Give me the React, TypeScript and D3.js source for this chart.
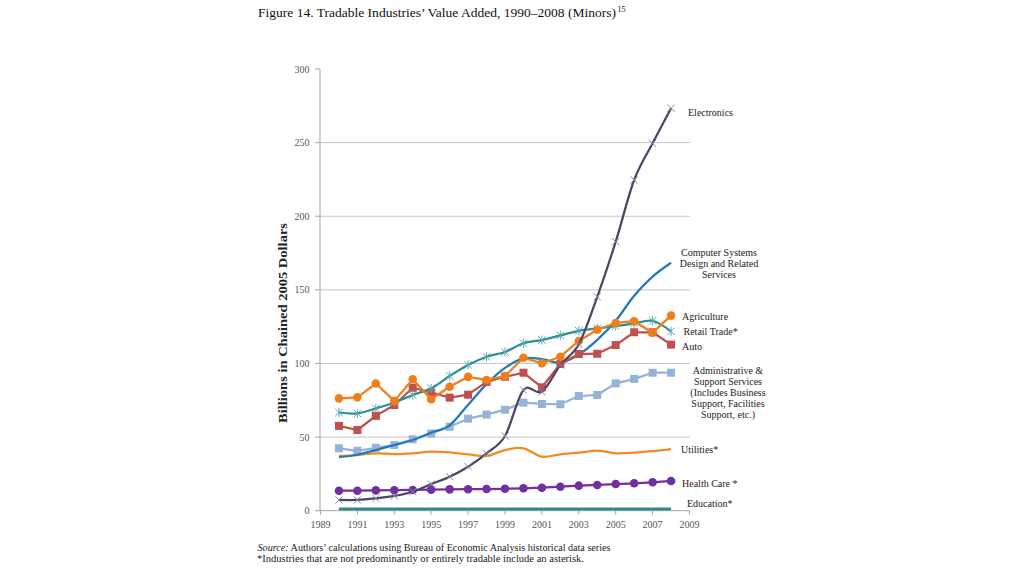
import React from "react";
import * as d3 from "d3";

const years = [1990,1991,1992,1993,1994,1995,1996,1997,1998,1999,2000,2001,2002,2003,2004,2005,2006,2007,2008];
const electronics = [7.3,7.3,8.4,10,12.9,18.1,23.1,29.9,39,50.7,82,80.8,99,113,145.3,182.7,224.6,249.5,273.3];
const computer = [36.3,38,41.2,44.6,48,53,58,72,86,97,103.5,103,100.5,106,116,129,146,159,168.4];
const agriculture = [76.3,77,86.4,74.6,89.3,75.7,84.2,90.9,88.8,91.5,103.9,100.1,104.6,115.3,122.9,127.5,128.7,120.9,132.5];
const retail = [66.7,66.1,69.5,73.5,78.6,83.1,91.5,99,104.6,107.8,113.7,115.9,119.1,122.2,123.8,125.4,127.2,129,121.8];
const auto = [57.6,54.8,64.4,71.8,83.5,80.3,76.8,78.8,87.5,91,93.7,83.8,99.6,106.4,106.6,112.5,121.2,121.2,112.8];
const admin = [42.4,40.7,42.7,44.6,48.5,52.4,57,62.5,65.3,68.6,73.4,72.5,72.3,77.9,78.6,86.5,89.5,93.7,93.7];
const utilities = [37.2,37.8,39,38.5,39,40.1,39.6,38.3,37.2,41.2,42.4,36.7,38.3,39.4,40.8,39,39.4,40.5,41.9];
const health = [13.6,13.6,13.8,13.9,14.1,14.3,14.5,14.6,14.7,14.9,15.2,15.6,16.3,17,17.5,18.1,18.6,19.3,20.2];
const education = [1.2,1.2,1.2,1.2,1.2,1.2,1.2,1.2,1.2,1.2,1.2,1.2,1.2,1.2,1.2,1.2,1.2,1.2,1.2];

const yTicks = [0,50,100,150,200,250,300];
const xTicks = [1989,1991,1993,1995,1997,1999,2001,2003,2005,2007,2009];

type Marker = "none" | "circle" | "square" | "x" | "asterisk";
interface Series { name: string; values: number[]; color: string; markerColor: string; marker: Marker; smooth: boolean; width: number; }

const series: Series[] = [
  { name: "Education*", values: education, color: "#2f8a8e", markerColor: "#2f8a8e", marker: "none", smooth: false, width: 3 },
  { name: "Health Care *", values: health, color: "#7030a0", markerColor: "#7030a0", marker: "circle", smooth: false, width: 2.25 },
  { name: "Utilities*", values: utilities, color: "#f08a24", markerColor: "#f08a24", marker: "none", smooth: true, width: 2.25 },
  { name: "Administrative & Support Services", values: admin, color: "#95b3d7", markerColor: "#95b3d7", marker: "square", smooth: false, width: 2.25 },
  { name: "Computer Systems", values: computer, color: "#2579b9", markerColor: "#2579b9", marker: "none", smooth: true, width: 2.25 },
  { name: "Auto", values: auto, color: "#c0504d", markerColor: "#c0504d", marker: "square", smooth: false, width: 2.25 },
  { name: "Retail Trade*", values: retail, color: "#2e8f8f", markerColor: "#5aaab8", marker: "asterisk", smooth: true, width: 2.25 },
  { name: "Agriculture", values: agriculture, color: "#f07f1b", markerColor: "#f07f1b", marker: "circle", smooth: false, width: 2.25 },
  { name: "Electronics", values: electronics, color: "#4d4766", markerColor: "#8c88a3", marker: "x", smooth: true, width: 2.25 },
];

const labels: { lines: string[]; x: number; y: number; anchor: "start" | "middle" }[] = [
  { lines: ["Electronics"], x: 688, y: 112.5, anchor: "start" },
  { lines: ["Computer Systems", "Design and Related", "Services"], x: 719, y: 252.5, anchor: "middle" },
  { lines: ["Agriculture"], x: 682, y: 316.5, anchor: "start" },
  { lines: ["Retail Trade*"], x: 683.5, y: 331, anchor: "start" },
  { lines: ["Auto"], x: 682, y: 346, anchor: "start" },
  { lines: ["Administrative &", "Support Services", "(Includes Business", "Support, Facilities", "Support, etc.)"], x: 728, y: 370, anchor: "middle" },
  { lines: ["Utilities*"], x: 681, y: 449.5, anchor: "start" },
  { lines: ["Health Care *"], x: 682, y: 483, anchor: "start" },
  { lines: ["Education*"], x: 687, y: 503.5, anchor: "start" },
];

const FONT = "'Liberation Serif', 'Times New Roman', serif";

export default function App() {
  const x = d3.scaleLinear().domain([1989, 2009]).range([320.5, 689.5]);
  const y = d3.scaleLinear().domain([0, 300]).range([510.7, 69]);

  const markerNode = (s: Series, px: number, py: number, key: string) => {
    const c = s.markerColor;
    if (s.marker === "circle") return <circle key={key} cx={px} cy={py} r={4.3} fill={c} />;
    if (s.marker === "square") return <rect key={key} x={px - 4} y={py - 4} width={8} height={8} fill={c} />;
    if (s.marker === "x") {
      const h = 3.6;
      return <path key={key} d={`M${px - h},${py - h}L${px + h},${py + h}M${px - h},${py + h}L${px + h},${py - h}`} stroke={c} strokeWidth={1} fill="none" />;
    }
    if (s.marker === "asterisk") {
      const h = 3.8;
      return <path key={key} d={`M${px - h},${py - h}L${px + h},${py + h}M${px - h},${py + h}L${px + h},${py - h}M${px},${py - h - 0.8}L${px},${py + h + 0.8}`} stroke={c} strokeWidth={1} fill="none" />;
    }
    return null;
  };

  return (
    <svg width={1024} height={576} style={{ position: "absolute", left: 0, top: 0, background: "#fff" }} fontFamily={FONT}>
      <rect width={1024} height={576} fill="#fff" />
      {/* title */}
      <text x={258} y={17} fontSize={13.5} fill="#111" textLength={358} lengthAdjust="spacingAndGlyphs">
        Figure 14. Tradable Industries’ Value Added, 1990–2008 (Minors)
      </text>
      <text x={617.5} y={12} fontSize={8} fill="#111">15</text>

      {/* gridlines */}
      {yTicks.filter(t => t > 0 && t < 300).map(t => (
        <line key={`g${t}`} x1={320} x2={690} y1={y(t)} y2={y(t)} stroke="#c4c4c4" strokeWidth={1} />
      ))}
      {/* y axis */}
      <line x1={320} x2={320} y1={y(300)} y2={y(0)} stroke="#a6a6a6" strokeWidth={1} />
      {yTicks.map(t => (
        <g key={`yt${t}`}>
          <line x1={315} x2={320} y1={y(t)} y2={y(t)} stroke="#a6a6a6" />
          <text x={309.5} y={y(t)} dy="0.35em" textAnchor="end" fontSize={10} fill="#555">{t}</text>
        </g>
      ))}
      {/* x axis */}
      <line x1={320} x2={690} y1={y(0)} y2={y(0)} stroke="#a6a6a6" strokeWidth={1} />
      {xTicks.map(t => (
        <g key={`xt${t}`}>
          <line x1={x(t)} x2={x(t)} y1={y(0)} y2={y(0) + 4} stroke="#a6a6a6" />
          <text x={x(t)} y={528} textAnchor="middle" fontSize={10} fill="#555">{t}</text>
        </g>
      ))}
      <text transform={`translate(287,323) rotate(-90)`} textAnchor="middle" fontSize={12} fontWeight="bold" fill="#222" textLength={200} lengthAdjust="spacingAndGlyphs">
        Billions in Chained 2005 Dollars
      </text>

      {/* series */}
      {series.map(s => {
        const line = d3.line<number>()
          .x((_, i) => x(years[i]))
          .y(v => y(v))
          .curve(s.smooth ? d3.curveCardinal.tension(0) : d3.curveLinear);
        return (
          <g key={s.name}>
            <path d={line(s.values) || ""} fill="none" stroke={s.color} strokeWidth={s.width} strokeLinejoin="round" />
            {s.marker !== "none" && s.values.map((v, i) => markerNode(s, x(years[i]), y(v), `${s.name}${i}`))}
          </g>
        );
      })}

      {/* series labels */}
      {labels.map((l, i) => (
        <text key={`l${i}`} x={l.x} y={l.y} dy="0.35em" textAnchor={l.anchor} fontSize={10} fill="#222">
          {l.lines.map((ln, j) => (
            <tspan key={j} x={l.x} dy={j === 0 ? "0.35em" : 11}>{ln}</tspan>
          ))}
        </text>
      ))}

      {/* notes */}
      <text x={257.5} y={551} fontSize={10} fill="#222" textLength={353} lengthAdjust="spacingAndGlyphs">
        <tspan fontStyle="italic">Source:</tspan> Authors’ calculations using Bureau of Economic Analysis historical data series
      </text>
      <text x={257} y={561.5} fontSize={10} fill="#222" textLength={327} lengthAdjust="spacingAndGlyphs">
        *Industries that are not predominantly or entirely tradable include an asterisk.
      </text>
    </svg>
  );
}
